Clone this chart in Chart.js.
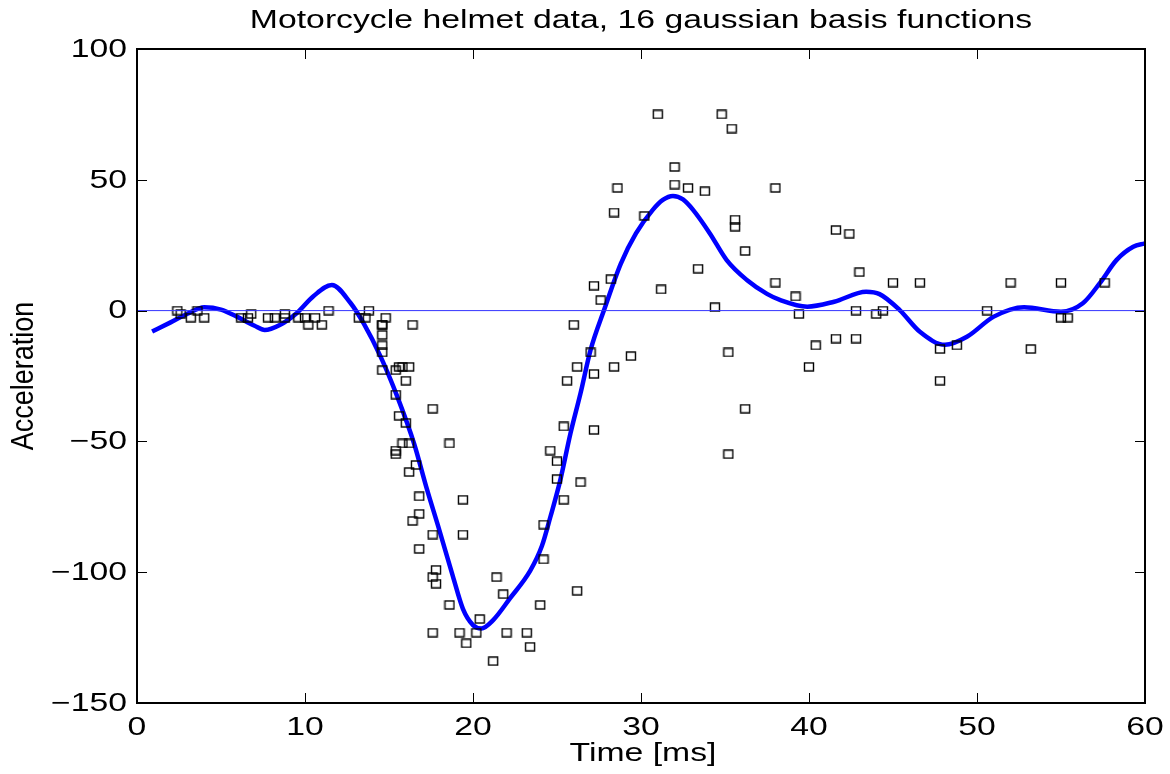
<!DOCTYPE html>
<html>
<head>
<meta charset="utf-8">
<script src="https://cdn.jsdelivr.net/npm/chart.js@4"></script>
<style>
    body { margin: 0; background: #fff; }
    #wrap { width: 1170px; height: 774px; }
</style>
</head>
<body>
<div id="wrap"><canvas id="helmetChart" width="1170" height="774"></canvas></div>
<script>
// Motorcycle helmet data (time in ms, head acceleration in g)
const times = [2.4, 2.6, 3.2, 3.6, 4.0, 6.2, 6.6, 6.8, 7.8, 8.2, 8.8, 8.8, 9.6, 10.0, 10.2, 10.6, 11.0, 11.4,
    13.2, 13.6, 13.8, 14.6, 14.6, 14.6, 14.6, 14.6, 14.6, 14.8, 15.4, 15.4, 15.4, 15.4, 15.6, 15.6, 15.8, 15.8,
    16.0, 16.0, 16.2, 16.2, 16.2, 16.4, 16.4, 16.6, 16.8, 16.8, 16.8, 17.6, 17.6, 17.6, 17.6, 17.8, 17.8, 18.6,
    18.6, 19.2, 19.4, 19.4, 19.6, 20.2, 20.4, 21.2, 21.4, 21.8, 22.0, 23.2, 23.4, 24.0, 24.2, 24.2, 24.6, 25.0,
    25.0, 25.4, 25.4, 25.6, 26.0, 26.2, 26.2, 26.4, 27.0, 27.2, 27.2, 27.2, 27.6, 28.2, 28.4, 28.4, 28.6, 29.4,
    30.2, 31.0, 31.2, 32.0, 32.0, 32.8, 33.4, 33.8, 34.4, 34.8, 35.2, 35.2, 35.4, 35.6, 35.6, 36.2, 36.2, 38.0,
    38.0, 39.2, 39.4, 40.0, 40.4, 41.6, 41.6, 42.4, 42.8, 42.8, 43.0, 44.0, 44.4, 45.0, 46.6, 47.8, 47.8, 48.8,
    50.6, 52.0, 53.2, 55.0, 55.0, 55.4, 57.6];
const accel = [0.0, -1.3, -2.7, 0.0, -2.7, -2.7, -2.7, -1.3, -2.7, -2.7, -1.3, -2.7, -2.7, -2.7, -5.4, -2.7, -5.4, 0.0,
    -2.7, -2.7, 0.0, -13.3, -5.4, -5.4, -9.3, -16.0, -22.8, -2.7, -22.8, -32.1, -53.5, -54.9, -40.2, -21.5, -21.5, -50.8,
    -42.9, -26.8, -21.5, -50.8, -61.7, -5.4, -80.4, -59.0, -71.0, -91.1, -77.7, -37.5, -85.6, -123.1, -101.9, -99.1, -104.4, -112.5,
    -50.8, -123.1, -85.6, -72.3, -127.2, -123.1, -117.9, -134.0, -101.9, -108.4, -123.1, -123.1, -128.5, -112.5, -95.1, -81.8, -53.5, -64.4,
    -57.6, -72.3, -44.3, -26.8, -5.4, -107.1, -21.5, -65.6, -16.0, -45.6, -24.2, 9.5, 4.0, 12.0, -21.5, 37.5, 46.9, -17.4,
    36.2, 75.0, 8.1, 54.9, 48.2, 46.9, 16.0, 45.6, 1.3, 75.0, -16.0, -54.9, 69.6, 34.8, 32.1, -37.5, 22.8, 46.9,
    10.7, 5.4, -1.3, -21.5, -13.3, 30.8, -10.7, 29.4, 0.0, -10.7, 14.7, -1.3, 0.0, 10.7, 10.7, -26.8, -14.7, -13.3,
    0.0, 10.7, -14.7, -2.7, 10.7, -2.7, 10.7];

// fitted curve (16 gaussian basis functions)
const fitT = [0.9, 2, 3, 4, 5, 6, 7, 7.6, 8.5, 9.5, 10.5, 11.6, 12.7, 13.5, 14.5, 15.5, 16.5, 17.2, 18,
    18.8, 19.4, 20, 20.5, 21.2, 22.2, 23.4, 24.1, 24.6, 25.2, 25.8, 26.4, 27, 27.8, 28.8, 29.7, 30.7, 31.3,
    31.9, 32.5, 33.1, 34.1, 35.1, 36.3, 37.5, 38.3, 39.9, 41.5, 43.4, 44.2, 45.4, 46.6, 48.1, 49.4, 51,
    52.8, 55, 56.3, 57.3, 58.3, 59.3, 60];
const fitA = [-8, -4.5, -1.2, 1.3, 0.4, -2.5, -5.8, -7.4, -5.5, -1, 5.5, 9.8, 3.0, -5, -17.6, -33, -51, -67, -84,
    -101.5, -114, -120.2, -121.5, -118.3, -110, -99.5, -90, -79, -64.7, -47, -31.6, -15, 0.2, 18, 29.5, 38.5, 42.3,
    43.8, 42.5, 38.5, 29.5, 19.3, 11.7, 6.4, 4.0, 1.5, 3.4, 7.2, 6.3, 0.2, -8.1, -13.1, -10, -2.3,
    1.3, -0.4, 2.8, 10.4, 19.3, 24.4, 25.7];

const xTicks = [0, 10, 20, 30, 40, 50, 60];
const yTicks = [100, 50, 0, -50, -100, -150];

const SX = 1.35;   // the figure text is stretched sideways
const FONT = '"Liberation Sans", Arial, sans-serif';

// hollow square marker
function makeMarker() {
    const c = document.createElement('canvas');
    c.width = 12;
    c.height = 10;
    const g = c.getContext('2d');
    g.strokeStyle = '#000';
    g.lineWidth = 1.4;
    g.strokeRect(1.5, 1, 9, 8);
    return c;
}

function stretchedText(ctx, text, x, y, align, baseline, size) {
    ctx.save();
    ctx.translate(x, y);
    ctx.scale(SX, 1);
    ctx.font = size + 'px ' + FONT;
    ctx.fillStyle = '#000';
    ctx.textAlign = align;
    ctx.textBaseline = baseline;
    ctx.fillText(text, 0, 0);
    ctx.restore();
}

// MATLAB style box, inward ticks and labels
const matlabAxes = {
    id: 'matlabAxes',
    afterDatasetsDraw(chart) {
        const ctx = chart.ctx;
        const a = chart.chartArea;
        const xs = chart.scales.x;
        const ys = chart.scales.y;
        const tick = 10;

        ctx.save();
        ctx.strokeStyle = '#000';
        ctx.lineWidth = 1;
        ctx.beginPath();
        xTicks.forEach(v => {
            const px = Math.round(xs.getPixelForValue(v)) + 0.5;
            ctx.moveTo(px, a.bottom); ctx.lineTo(px, a.bottom - tick);
            ctx.moveTo(px, a.top); ctx.lineTo(px, a.top + tick);
        });
        yTicks.forEach(v => {
            const py = Math.round(ys.getPixelForValue(v)) + 0.5;
            ctx.moveTo(a.left, py); ctx.lineTo(a.left + tick, py);
            ctx.moveTo(a.right, py); ctx.lineTo(a.right - tick, py);
        });
        ctx.stroke();

        ctx.lineWidth = 2;
        ctx.strokeRect(a.left, a.top, a.right - a.left, a.bottom - a.top);
        ctx.restore();

        xTicks.forEach(v => {
            stretchedText(ctx, String(v), xs.getPixelForValue(v), 735, 'center', 'alphabetic', 25);
        });
        yTicks.forEach(v => {
            const label = String(v).replace('-', '\u2212');
            stretchedText(ctx, label, 127, ys.getPixelForValue(v) + 1, 'right', 'middle', 25);
        });

        const cx = (a.left + a.right) / 2;
        stretchedText(ctx, 'Motorcycle helmet data, 16 gaussian basis functions', cx, 28, 'center', 'alphabetic', 25);
        stretchedText(ctx, 'Time [ms]', cx + 2, 761, 'center', 'alphabetic', 25);

        // rotated y title
        ctx.save();
        ctx.translate(24, (a.top + a.bottom) / 2);
        ctx.rotate(-Math.PI / 2);
        ctx.scale(1, 1.15);
        ctx.font = '27px ' + FONT;
        ctx.fillStyle = '#000';
        ctx.textAlign = 'center';
        ctx.textBaseline = 'middle';
        ctx.fillText('Acceleration', 0, 0);
        ctx.restore();
    }
};

document.addEventListener('DOMContentLoaded', function() {
    const ctx = document.getElementById('helmetChart');
    const marker = makeMarker();

    new Chart(ctx, {
        type: 'scatter',
        data: {
            datasets: [
                {
                    label: 'zero',
                    data: [{ x: 0, y: 0 }, { x: 60, y: 0 }],
                    showLine: true,
                    borderColor: '#3333ff',
                    borderWidth: 1,
                    pointRadius: 0
                },
                {
                    label: 'data',
                    data: times.map((t, i) => ({ x: t, y: accel[i] })),
                    pointStyle: marker,
                    pointRadius: 5
                },
                {
                    label: 'fit',
                    data: fitT.map((t, i) => ({ x: t, y: fitA[i] })),
                    showLine: true,
                    borderColor: '#0000ff',
                    borderWidth: 4.5,
                    cubicInterpolationMode: 'monotone',
                    pointRadius: 0
                }
            ]
        },
        options: {
            responsive: false,
            animation: false,
            layout: { padding: { left: 137, right: 25, top: 49, bottom: 71 } },
            plugins: {
                legend: { display: false },
                tooltip: { enabled: false }
            },
            scales: {
                x: { type: 'linear', min: 0, max: 60, display: false },
                y: { type: 'linear', min: -150, max: 100, display: false }
            }
        },
        plugins: [matlabAxes]
    });
});
</script>
</body>
</html>
